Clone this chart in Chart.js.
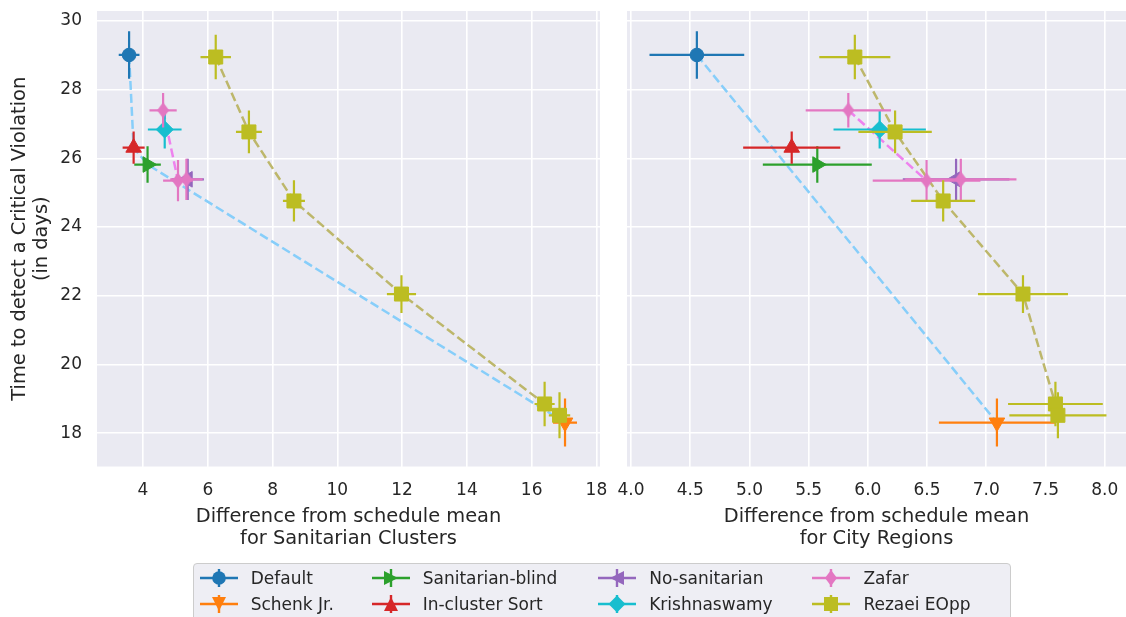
<!DOCTYPE html>
<html>
<head>
<meta charset="utf-8">
<script src="https://cdn.jsdelivr.net/npm/chart.js@4.4.0/dist/chart.umd.min.js"></script>
<style>
  html, body { margin: 0; padding: 0; background: #fff; width: 1126px; height: 617px; overflow: hidden; font-family: "DejaVu Sans", sans-serif; }
  #left { position: absolute; left: 0; top: 0; width: 615px; height: 550px; }
  #right { position: absolute; left: 612px; top: 0; width: 514px; height: 550px; }
  #legend { position: absolute; left: 192.7px; top: 563.3px; width: 818px; height: 70px; background: #eeeef4; border: 1px solid #cccccc; border-radius: 4px; box-sizing: border-box; }
  .item { position: absolute; height: 26px; display: flex; align-items: center; font-size: 17px; color: #262626; white-space: nowrap; }
  .item canvas { margin-right: 13px; }
</style>
</head>
<body>
<div id="left"><canvas id="clusterChart"></canvas></div>
<div id="right"><canvas id="regionChart"></canvas></div>
<div id="legend"></div>
<script>
// tick labels
const yTicks = [18, 20, 22, 24, 26, 28, 30];
const clusterTicks = [4, 6, 8, 10, 12, 14, 16, 18];
const regionTicks = [4.0, 4.5, 5.0, 5.5, 6.0, 6.5, 7.0, 7.5, 8.0];

// Default
const defaultY = [29.01], defaultYErr = [0.69];
const defaultClusterX = [3.57], defaultClusterXErr = [0.32];
const defaultRegionX = [4.556], defaultRegionXErr = [0.40];
// Schenk Jr.
const schenkY = [18.31], schenkYErr = [0.70];
const schenkClusterX = [17.03], schenkClusterXErr = [0.37];
const schenkRegionX = [7.09], schenkRegionXErr = [0.49];
// Sanitarian-blind
const blindY = [25.82], blindYErr = [0.53];
const blindClusterX = [4.14], blindClusterXErr = [0.41];
const blindRegionX = [5.573], blindRegionXErr = [0.46];
// In-cluster Sort
const sortY = [26.31], sortYErr = [0.47];
const sortClusterX = [3.71], sortClusterXErr = [0.34];
const sortRegionX = [5.357], sortRegionXErr = [0.41];
// No-sanitarian
const noSanY = [25.39], noSanYErr = [0.60];
const noSanClusterX = [5.38], noSanClusterXErr = [0.50];
const noSanRegionX = [6.745], noSanRegionXErr = [0.45];
// Krishnaswamy
const krishY = [26.84], krishYErr = [0.55];
const krishClusterX = [4.67], krishClusterXErr = [0.52];
const krishRegionX = [6.10], krishRegionXErr = [0.39];
// Zafar
const zafarY = [27.40, 25.35, 25.39], zafarYErr = [0.50, 0.60, 0.60];
const zafarClusterX = [4.62, 5.08, 5.34], zafarClusterXErr = [0.42, 0.46, 0.50];
const zafarRegionX = [5.835, 6.496, 6.785], zafarRegionXErr = [0.36, 0.455, 0.47];
// Rezaei EOpp
const rezaeiY = [28.95, 26.77, 24.76, 22.05, 18.85, 18.52], rezaeiYErr = [0.65, 0.62, 0.60, 0.55, 0.65, 0.67];
const rezaeiClusterX = [6.245, 7.27, 8.66, 11.98, 16.40, 16.86], rezaeiClusterXErr = [0.47, 0.40, 0.34, 0.45, 0.31, 0.33];
const rezaeiRegionX = [5.89, 6.23, 6.636, 7.31, 7.584, 7.605], rezaeiRegionXErr = [0.30, 0.31, 0.27, 0.38, 0.40, 0.41];
// light blue dashed trade-off line
const frontierY = [29.01, 26.31, 25.82, 18.31];
const frontierClusterX = [3.57, 3.71, 4.14, 17.03];
const frontierRegionX = [4.556, 5.195, 5.311, 7.09];

Chart.defaults.font.family = "'DejaVu Sans', sans-serif";
const textColor = '#262626';

function thinDiamond(color, w, h) {
    const c = document.createElement('canvas');
    c.width = w; c.height = h;
    const g = c.getContext('2d');
    g.fillStyle = color;
    g.beginPath();
    g.moveTo(w / 2, 0); g.lineTo(w, h / 2); g.lineTo(w / 2, h); g.lineTo(0, h / 2);
    g.closePath();
    g.fill();
    return c;
}

const series = [
    { label: 'Default', color: '#1f77b4', shape: 'circle', style: 'circle', radius: 6.8, rot: 0,
      y: defaultY, yErr: defaultYErr, cx: defaultClusterX, cxErr: defaultClusterXErr, rx: defaultRegionX, rxErr: defaultRegionXErr },
    { label: 'Schenk Jr.', color: '#ff7f0e', shape: 'tri', style: 'triangle', radius: 9, rot: 180,
      y: schenkY, yErr: schenkYErr, cx: schenkClusterX, cxErr: schenkClusterXErr, rx: schenkRegionX, rxErr: schenkRegionXErr },
    { label: 'Sanitarian-blind', color: '#2ca02c', shape: 'tri', style: 'triangle', radius: 9, rot: 90,
      y: blindY, yErr: blindYErr, cx: blindClusterX, cxErr: blindClusterXErr, rx: blindRegionX, rxErr: blindRegionXErr },
    { label: 'In-cluster Sort', color: '#d62728', shape: 'tri', style: 'triangle', radius: 9, rot: 0,
      y: sortY, yErr: sortYErr, cx: sortClusterX, cxErr: sortClusterXErr, rx: sortRegionX, rxErr: sortRegionXErr },
    { label: 'No-sanitarian', color: '#9467bd', shape: 'tri', style: 'triangle', radius: 9, rot: 270,
      y: noSanY, yErr: noSanYErr, cx: noSanClusterX, cxErr: noSanClusterXErr, rx: noSanRegionX, rxErr: noSanRegionXErr },
    { label: 'Krishnaswamy', color: '#17becf', shape: 'diamond', style: 'rectRot', radius: 8.5, rot: 0,
      y: krishY, yErr: krishYErr, cx: krishClusterX, cxErr: krishClusterXErr, rx: krishRegionX, rxErr: krishRegionXErr },
    { label: 'Zafar', color: '#e377c2', shape: 'thin', style: thinDiamond('#e377c2', 12, 16), radius: 8, rot: 0,
      y: zafarY, yErr: zafarYErr, cx: zafarClusterX, cxErr: zafarClusterXErr, rx: zafarRegionX, rxErr: zafarRegionXErr },
    { label: 'Rezaei EOpp', color: '#bcbd22', shape: 'square', style: 'rect', radius: 9.9, rot: 0,
      y: rezaeiY, yErr: rezaeiYErr, cx: rezaeiClusterX, cxErr: rezaeiClusterXErr, rx: rezaeiRegionX, rxErr: rezaeiRegionXErr }
];

// dashed connector lines (drawn under the markers)
const connectors = [
    { color: '#87cefa', y: frontierY, cx: frontierClusterX, rx: frontierRegionX },
    { color: '#ee82ee', y: zafarY, cx: zafarClusterX, rx: zafarRegionX },
    { color: '#bdb76b', y: rezaeiY, cx: rezaeiClusterX, rx: rezaeiRegionX }
];

const plotBg = {
    id: 'plotBg',
    beforeDraw(chart) {
        const { ctx, chartArea: a } = chart;
        ctx.save();
        ctx.fillStyle = '#eaeaf2';
        ctx.fillRect(a.left, a.top, a.right - a.left, a.bottom - a.top);
        ctx.restore();
    }
};

// error bars go under each dataset's markers
const errorBars = {
    id: 'errorBars',
    beforeDatasetDraw(chart, args) {
        const ds = chart.data.datasets[args.index];
        if (!ds.errColor) return;
        const xs = chart.scales.x, ys = chart.scales.y, ctx = chart.ctx;
        ctx.save();
        ctx.strokeStyle = ds.errColor;
        ctx.lineWidth = 2.2;
        ds.data.forEach(d => {
            const px = xs.getPixelForValue(d.x), py = ys.getPixelForValue(d.y);
            ctx.beginPath();
            ctx.moveTo(xs.getPixelForValue(d.x - d.xErr), py);
            ctx.lineTo(xs.getPixelForValue(d.x + d.xErr), py);
            ctx.moveTo(px, ys.getPixelForValue(d.y - d.yErr));
            ctx.lineTo(px, ys.getPixelForValue(d.y + d.yErr));
            ctx.stroke();
        });
        ctx.restore();
    }
};

function buildDatasets(panel) {
    const out = [];
    connectors.forEach((c, k) => {
        const xs = panel === 'cluster' ? c.cx : c.rx;
        out.push({
            data: c.y.map((v, i) => ({ x: xs[i], y: v })),
            showLine: true, borderColor: c.color, borderWidth: 2.5, borderDash: [9, 4],
            pointRadius: 0, order: 20 + k
        });
    });
    series.forEach((s, k) => {
        const xs = panel === 'cluster' ? s.cx : s.rx;
        const xe = panel === 'cluster' ? s.cxErr : s.rxErr;
        out.push({
            label: s.label,
            data: s.y.map((v, i) => ({ x: xs[i], y: v, xErr: xe[i], yErr: s.yErr[i] })),
            showLine: false,
            errColor: s.color,
            pointStyle: s.style, pointRadius: s.radius, pointRotation: s.rot,
            pointBackgroundColor: s.color, pointBorderColor: s.color, pointBorderWidth: 1,
            order: -k
        });
    });
    return out;
}

function makeChart(id, panel) {
    const isLeft = panel === 'cluster';
    const ticks = isLeft ? clusterTicks : regionTicks;
    new Chart(document.getElementById(id), {
        type: 'scatter',
        data: { datasets: buildDatasets(panel) },
        options: {
            responsive: true, maintainAspectRatio: false, animation: false, events: [],
            layout: {
                autoPadding: false,
                padding: isLeft ? { top: 11, right: 15, left: 0, bottom: 0 } : { top: 11, right: 0, left: 15, bottom: 0 }
            },
            plugins: { legend: { display: false }, tooltip: { enabled: false } },
            scales: {
                x: {
                    type: 'linear',
                    min: isLeft ? 2.579 : 3.966,
                    max: isLeft ? 18.11 : 8.18,
                    afterBuildTicks: s => { s.ticks = ticks.map(v => ({ value: v })); },
                    afterFit: s => { s.height = 83.5; s.paddingLeft = 0; s.paddingRight = 0; },
                    grid: { color: '#ffffff', lineWidth: 1.6, drawTicks: false },
                    border: { display: false },
                    ticks: {
                        padding: 14, autoSkip: false, maxRotation: 0, color: textColor, font: { size: 17 },
                        callback: v => isLeft ? String(v) : v.toFixed(1)
                    },
                    title: {
                        display: true, color: textColor, font: { size: 19.4, lineHeight: 1.144 }, padding: 0,
                        text: ['Difference from schedule mean', isLeft ? 'for Sanitarian Clusters' : 'for City Regions']
                    }
                },
                y: {
                    type: 'linear', min: 17.03, max: 30.29,
                    afterBuildTicks: s => { s.ticks = yTicks.map(v => ({ value: v })); },
                    afterFit: s => { s.width = isLeft ? 97 : 0; s.paddingTop = 0; s.paddingBottom = 0; },
                    grid: { color: '#ffffff', lineWidth: 1.6, drawTicks: false },
                    border: { display: false },
                    ticks: { display: isLeft, padding: 15, color: textColor, font: { size: 17 } },
                    title: {
                        display: isLeft, color: textColor, font: { size: 19.4, lineHeight: 1.144 }, padding: { top: 9, bottom: 0 },
                        text: ['Time to detect a Critical Violation', '(in days)']
                    }
                }
            }
        },
        plugins: [plotBg, errorBars]
    });
}

makeChart('clusterChart', 'cluster');
makeChart('regionChart', 'region');

// legend, laid out column by column like the original
function drawIcon(cv, s) {
    const g = cv.getContext('2d');
    const w = cv.width, h = cv.height, cx = w / 2, cy = h / 2;
    g.strokeStyle = s.color; g.fillStyle = s.color; g.lineWidth = 2.4;
    g.beginPath();
    g.moveTo(0, cy); g.lineTo(w, cy);
    g.moveTo(cx, cy - 9); g.lineTo(cx, cy + 9);
    g.stroke();
    g.beginPath();
    if (s.shape === 'circle') {
        g.arc(cx, cy, 6.8, 0, 2 * Math.PI);
    } else if (s.shape === 'square') {
        g.rect(cx - 7, cy - 7, 14, 14);
    } else if (s.shape === 'diamond') {
        g.moveTo(cx, cy - 8.5); g.lineTo(cx + 8.5, cy); g.lineTo(cx, cy + 8.5); g.lineTo(cx - 8.5, cy);
    } else if (s.shape === 'thin') {
        g.moveTo(cx, cy - 8); g.lineTo(cx + 6, cy); g.lineTo(cx, cy + 8); g.lineTo(cx - 6, cy);
    } else {
        const a = s.rot * Math.PI / 180, r = 7;
        const pts = [[0, -r], [r, r], [-r, r]].map(([px, py]) =>
            [cx + px * Math.cos(a) - py * Math.sin(a), cy + px * Math.sin(a) + py * Math.cos(a)]);
        g.moveTo(pts[0][0], pts[0][1]); g.lineTo(pts[1][0], pts[1][1]); g.lineTo(pts[2][0], pts[2][1]);
    }
    g.closePath();
    g.fill();
}

const legendCols = [6, 178, 404.5, 618.7];
const legendRows = [1, 27];
const legend = document.getElementById('legend');
series.forEach((s, k) => {
    const item = document.createElement('div');
    item.className = 'item';
    item.style.left = legendCols[Math.floor(k / 2)] + 'px';
    item.style.top = legendRows[k % 2] + 'px';
    const cv = document.createElement('canvas');
    cv.width = 38; cv.height = 26;
    drawIcon(cv, s);
    item.appendChild(cv);
    item.appendChild(document.createTextNode(s.label));
    legend.appendChild(item);
});
</script>
</body>
</html>
